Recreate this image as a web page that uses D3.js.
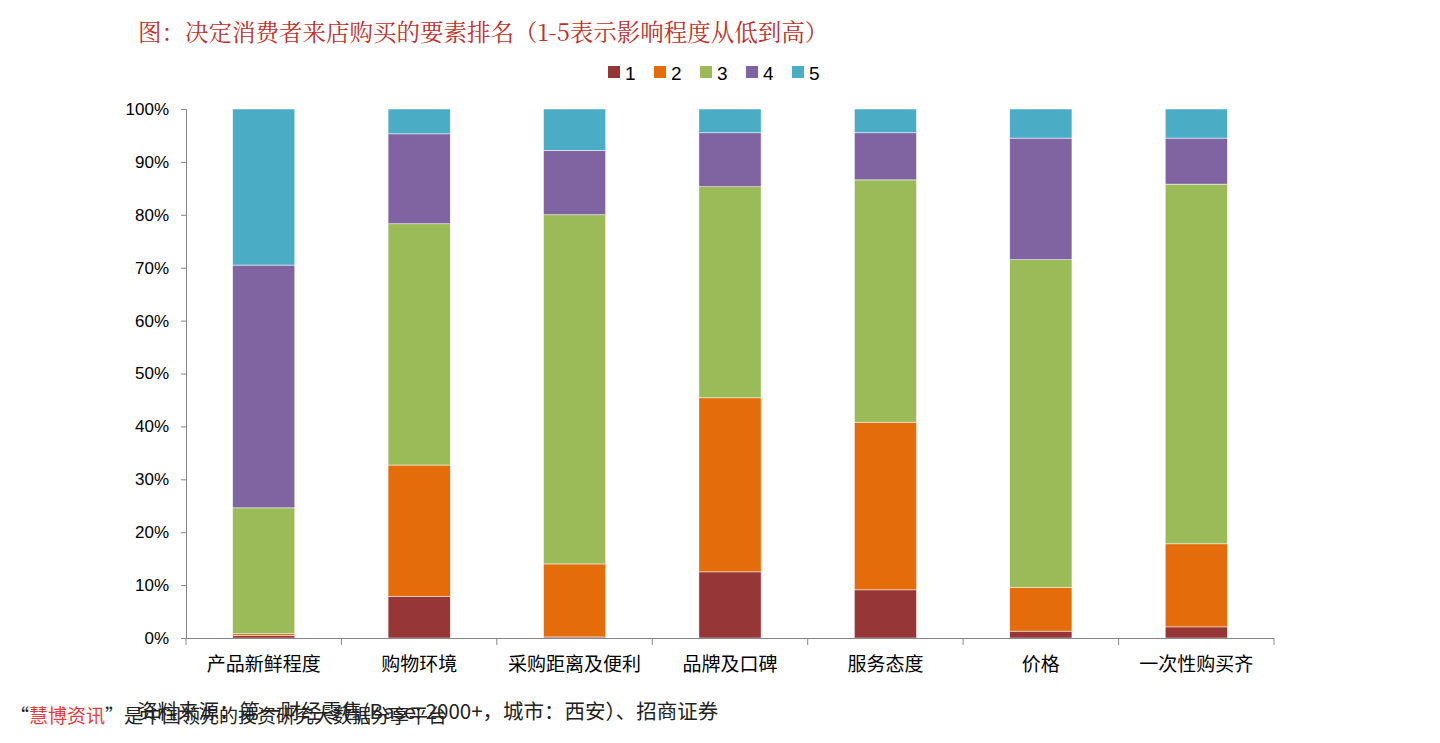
<!DOCTYPE html>
<html><head><meta charset="utf-8">
<script src="https://cdn.jsdelivr.net/npm/d3@7"></script>
<style>body{margin:0;background:#fff}svg{display:block}</style>
</head><body>
<svg id="c" width="1440" height="743"></svg>
<script>
const categories = ["产品新鲜程度","购物环境","采购距离及便利","品牌及口碑","服务态度","价格","一次性购买齐"];
const seriesNames = ["1","2","3","4","5"];
const s1 = [0.5, 7.9, 0.2, 12.5, 9.1, 1.3, 2.1];
const s2 = [0.3, 24.8, 13.8, 32.9, 31.7, 8.3, 15.7];
const s3 = [23.8, 45.6, 66.0, 39.9, 45.8, 61.9, 68.0];
const s4 = [45.9, 17.0, 12.2, 10.2, 8.9, 23.0, 8.7];
const s5 = [29.5, 4.7, 7.8, 4.5, 4.5, 5.5, 5.5];
const yTicks = [0,10,20,30,40,50,60,70,80,90,100];
const colors = ["#963636","#e46c0a","#9bbb59","#8064a2","#4bacc6"];

const svg = d3.select("#c");
const cjk = "'Noto Sans CJK SC', sans-serif";
const rows = categories.map((c,i)=>{const o={cat:c};[s1,s2,s3,s4,s5].forEach((s,k)=>o[seriesNames[k]]=s[i]);return o;});
const stack = d3.stack().keys(seriesNames)(rows);
const x = d3.scaleBand().domain(categories).range([186,1274]).paddingInner(0.6).paddingOuter(0.3);
const y = d3.scaleLinear().domain([0,100]).range([638,109]);

svg.append("g").selectAll("g").data(stack).join("g").attr("fill",(d,i)=>colors[i])
 .selectAll("rect").data(d=>d).join("rect")
 .attr("x",d=>x(d.data.cat)).attr("width",x.bandwidth())
 .attr("y",d=>y(d[1])).attr("height",d=>Math.max(0,y(d[0])-y(d[1])))
 .attr("stroke","#fff").attr("stroke-width",0.5);

const ya = svg.append("g").attr("transform","translate(186,0)")
 .call(d3.axisLeft(y).tickValues(yTicks).tickFormat(d=>d+"%").tickSize(5));
ya.select(".domain").attr("stroke","#868686");
ya.selectAll(".tick line").attr("stroke","#868686");
ya.selectAll("text").attr("font-family","'Liberation Sans', Arial, sans-serif").attr("font-size",17).attr("fill","#000").attr("x",-17);

const step = (1274-186)/categories.length;
const xg = svg.append("g");
xg.append("line").attr("x1",186).attr("x2",1274).attr("y1",638.5).attr("y2",638.5).attr("stroke","#868686");
d3.range(categories.length+1).forEach(i=>{
  xg.append("line").attr("x1",186+i*step).attr("x2",186+i*step).attr("y1",638).attr("y2",645).attr("stroke","#868686");
});
xg.selectAll("text.cat").data(categories).join("text").attr("class","cat")
 .attr("x",d=>x(d)+x.bandwidth()/2).attr("y",671).attr("text-anchor","middle")
 .attr("font-family",cjk).attr("font-size",19).attr("fill","#000").text(d=>d);

svg.append("text").attr("x",138).attr("y",41).attr("font-family","'Noto Serif CJK SC','Noto Sans CJK SC',serif")
 .attr("font-size",23.5).attr("fill","#c0302a").text("图：决定消费者来店购买的要素排名（1-5表示影响程度从低到高）");

const lg = svg.append("g");
const lx0 = 608, lsp = 46;
seriesNames.forEach((n,i)=>{
  lg.append("rect").attr("x",lx0+i*lsp).attr("y",66).attr("width",12).attr("height",12).attr("fill",colors[i]);
  lg.append("text").attr("x",lx0+i*lsp+17).attr("y",80).attr("font-family","'Liberation Sans',sans-serif").attr("font-size",19).text(n);
});

svg.append("text").attr("x",137).attr("y",719).attr("font-family",cjk).attr("font-size",20.5).attr("fill","#222")
 .text("资料来源：第一财经零售(Base: 2000+，城市：西安）、招商证券");
const ft = svg.append("text").attr("x",10).attr("y",723).attr("font-family",cjk).attr("font-size",19).attr("fill","#222");
ft.append("tspan").text("“");
ft.append("tspan").attr("fill","#e83a3a").text("慧博资讯");
ft.append("tspan").text("”是中国领先的投资研究大数据分享平台");
</script>
</body></html>
